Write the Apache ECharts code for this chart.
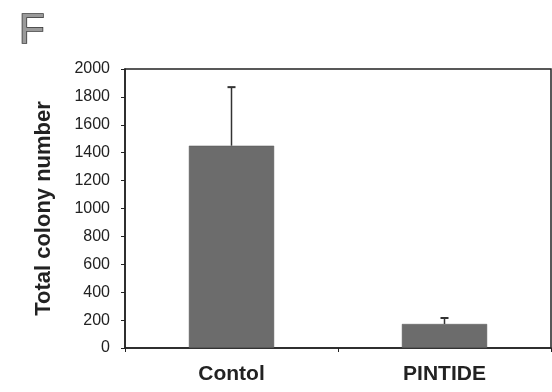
<!DOCTYPE html>
<html><head><meta charset="utf-8">
<script src="https://cdn.jsdelivr.net/npm/echarts@6/dist/echarts.min.js"></script>
<style>html,body{margin:0;padding:0;background:#fff}#c{width:552px;height:392px}</style>
</head><body><div id="c"></div>
<script>
var categories = ['Contol', 'PINTIDE'];
var means = [1450, 172];
var errTops = [1870, 215];
var yTicks = [0, 200, 400, 600, 800, 1000, 1200, 1400, 1600, 1800, 2000];

var chart = echarts.init(document.getElementById('c'));
chart.setOption({
  animation: false,
  backgroundColor: '#fff',
  title: {text: 'F', left: 14, top: 5, textStyle: {fontFamily: 'Liberation Sans', fontSize: 42, fontWeight: 'normal', color: '#9a9a9a', textBorderColor: '#333', textBorderWidth: 1.5}},
  grid: {left: 125, top: 69, right: 1, bottom: 44, show: true, borderColor: '#222', borderWidth: 1.5, backgroundColor: 'transparent'},
  xAxis: {type: 'category', data: categories,
    axisLine: {lineStyle: {color: '#222', width: 1.5}},
    axisTick: {show: true, length: 4, lineStyle: {color: '#222'}},
    axisLabel: {margin: 16, fontFamily: 'Liberation Sans', fontSize: 21, fontWeight: 'bold', color: '#222'}},
  yAxis: {type: 'value', min: 0, max: 2000, interval: 200,
    name: 'Total colony number', nameLocation: 'middle', nameGap: 70,
    nameTextStyle: {fontFamily: 'Liberation Sans', fontSize: 22, fontWeight: 'bold', color: '#222'},
    axisLine: {show: true, lineStyle: {color: '#222', width: 1.5}},
    axisTick: {show: true, length: 4, lineStyle: {color: '#222'}},
    splitLine: {show: false},
    axisLabel: {margin: 15, fontFamily: 'Liberation Sans', fontSize: 16, color: '#222',
      formatter: function(v){ return yTicks.indexOf(v) >= 0 ? String(v) : ''; }}},
  series: [
    {type: 'bar', data: means, barWidth: '40%', itemStyle: {color: '#6c6c6c', borderColor: '#555', borderWidth: 0.5}},
    {type: 'custom', z: 1,
      data: categories.map(function(c, i){ return [i, means[i], errTops[i]]; }),
      renderItem: function(params, api){
        var p0 = api.coord([api.value(0), api.value(1)]);
        var p1 = api.coord([api.value(0), api.value(2)]);
        var hw = 4;
        return {type: 'group', children: [
          {type: 'line', shape: {x1: p0[0], y1: p0[1], x2: p1[0], y2: p1[1]}, style: {stroke: '#333', lineWidth: 1.5}},
          {type: 'line', shape: {x1: p1[0]-hw, y1: p1[1], x2: p1[0]+hw, y2: p1[1]}, style: {stroke: '#333', lineWidth: 2}}
        ]};
      }}
  ]
});
</script></body></html>
